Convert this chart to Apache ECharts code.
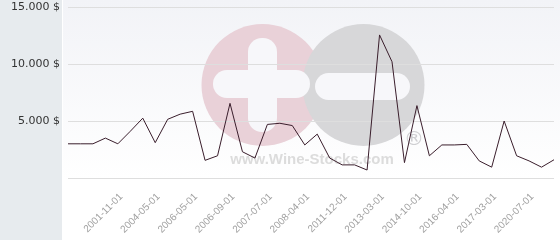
<!DOCTYPE html>
<html>
<head>
<meta charset="utf-8">
<script src="https://cdn.jsdelivr.net/npm/echarts@6/dist/echarts.min.js"></script>
<style>
html,body{margin:0;padding:0;background:#fff;}
#chart{width:560px;height:240px;}
</style>
</head>
<body>
<div id="chart"></div>
<script>
// Category labels (only every third date is printed on the axis)
var categories = ['', '', '', '', '', '2001-11-01', '', '', '2004-05-01', '', '',
  '2006-05-01', '', '', '2006-09-01', '', '', '2007-07-01', '', '', '2008-04-01', '', '',
  '2011-12-01', '', '', '2013-03-01', '', '', '2014-10-01', '', '', '2016-04-01', '', '',
  '2017-03-01', '', '', '2020-07-01', ''];
// Price values ($)
var prices = [3000, 3000, 3000, 3500, 3000, 4100, 5250, 3100, 5150, 5600,
  5850, 1550, 1950, 6550, 2300, 1750, 4700, 4800, 4600, 2900,
  3850, 1750, 1150, 1150, 700, 12550, 10200, 1350, 6350, 1950,
  2900, 2900, 2950, 1500, 950, 5000, 1950, 1500, 950, 1600];
// Y tick values and labels
var yTicks = [0, 5000, 10000, 15000];
var yTickLabels = ['', '5.000 $', '10.000 $', '15.000 $'];

var chart = echarts.init(document.getElementById('chart'), null, {renderer: 'canvas'});
chart.setOption({
  animation: false,
  backgroundColor: '#ffffff',
  grid: {left: 68, right: 6, top: 7, bottom: 62},
  graphic: [
    {type: 'rect', z: -20, shape: {x: 0, y: 0, width: 62, height: 240}, style: {fill: '#e7ebee'}},
    {type: 'rect', z: -20, shape: {x: 63, y: 0, width: 497, height: 240},
      style: {fill: new echarts.graphic.LinearGradient(0, 0, 0, 1, [
        {offset: 0, color: '#f2f3f7'}, {offset: 0.75, color: '#ffffff'}, {offset: 1, color: '#ffffff'}])}},
    {type: 'circle', z: -10, shape: {cx: 262.5, cy: 85, r: 61}, style: {fill: '#e9d1d8'}},
    {type: 'circle', z: -10, shape: {cx: 363.5, cy: 85, r: 61}, style: {fill: '#d7d7d9'}},
    {type: 'rect', z: -9, shape: {x: 248, y: 38, width: 29, height: 94, r: 14}, style: {fill: '#f7f7fa'}},
    {type: 'rect', z: -9, shape: {x: 213, y: 70, width: 97, height: 28, r: 14}, style: {fill: '#f7f7fa'}},
    {type: 'rect', z: -9, shape: {x: 315, y: 73, width: 95, height: 27, r: 13.5}, style: {fill: '#f7f7fa'}},
    {type: 'text', z: -8, x: 312, y: 160, style: {text: 'www.Wine-Stocks.com', fill: '#dcdcdc',
      font: 'bold 15px "Liberation Sans", Arial, sans-serif', textAlign: 'center', textVerticalAlign: 'middle'}},
    {type: 'text', z: -8, x: 414, y: 140, style: {text: '®', fill: '#cfcfd2',
      font: '20px "DejaVu Sans", sans-serif', textAlign: 'center', textVerticalAlign: 'middle'}}
  ],
  xAxis: {
    type: 'category',
    data: categories,
    boundaryGap: false,
    axisLine: {show: false},
    axisTick: {show: false},
    splitLine: {show: false},
    axisLabel: {interval: 0, rotate: 45, margin: 8, padding: [0, 13, 0, 0], color: '#a0a0a0', fontSize: 10,
      fontFamily: '"Liberation Sans", Arial, sans-serif'}
  },
  yAxis: {
    type: 'value',
    min: 0, max: 15000, interval: 5000,
    axisLine: {show: false},
    axisTick: {show: false},
    splitLine: {lineStyle: {color: '#dedede', width: 1}},
    axisLabel: {margin: 8, color: '#333333', fontSize: 11, fontFamily: '"DejaVu Sans", sans-serif',
      formatter: function (v) { var i = yTicks.indexOf(v); return i >= 0 ? yTickLabels[i] : ''; }}
  },
  series: [{
    type: 'line',
    data: prices,
    symbol: 'none',
    lineStyle: {color: '#3a1e2c', width: 1},
    z: 5
  }]
});
</script>
</body>
</html>
